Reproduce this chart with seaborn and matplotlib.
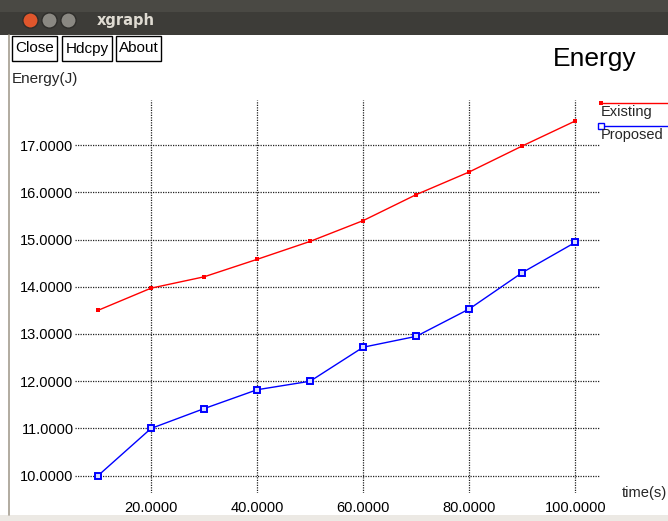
import matplotlib
matplotlib.use("Agg")
import matplotlib.pyplot as plt
import seaborn as sns
import pandas as pd
from matplotlib.lines import Line2D
from matplotlib.patches import Rectangle

# ---- data ----
time_s = [10, 20, 30, 40, 50, 60, 70, 80, 90, 100]
existing = [13.50, 13.97, 14.21, 14.58, 14.96, 15.40, 15.95, 16.43, 16.98, 17.51]
proposed = [10.00, 11.00, 11.42, 11.82, 12.00, 12.72, 12.95, 13.53, 14.30, 14.94]
series_names = ["Existing", "Proposed"]
x_ticks = [20, 40, 60, 80, 100]
y_ticks = [10, 11, 12, 13, 14, 15, 16, 17]

df = pd.DataFrame({
    "time": time_s * 2,
    "energy": existing + proposed,
    "series": [series_names[0]] * len(time_s) + [series_names[1]] * len(time_s),
})

sns.set_style("white")
plt.rcParams["font.family"] = ["Liberation Sans", "DejaVu Sans"]

W, H = 668, 521
fig = plt.figure(figsize=(W / 100, H / 100), dpi=100)
fig.patch.set_facecolor("white")


def fx(x):
    return x / W


def fy(y):
    return 1 - y / H


# ---- window chrome ----
fig.add_artist(Rectangle((0, fy(35)), 1, 35 / H, transform=fig.transFigure,
                         facecolor="#3d3c38", edgecolor="none"))
fig.add_artist(Rectangle((0, fy(12)), 1, 12 / H, transform=fig.transFigure,
                         facecolor="#4a4944", edgecolor="none"))
fig.add_artist(Rectangle((0, 0), 1, 6 / H, transform=fig.transFigure,
                         facecolor="#ece9e4", edgecolor="none"))
fig.add_artist(Line2D([fx(9), fx(9)], [fy(35), fy(515)], transform=fig.transFigure,
                      color="#a49d90", lw=1.2))
for cx, col in [(30, "#e0562c"), (49, "#8a8882"), (68, "#8a8882")]:
    fig.add_artist(Line2D([fx(cx)], [fy(20)], transform=fig.transFigure, marker="o",
                          ms=11, mfc=col, mec="#2e2d2a", mew=1))
fig.text(fx(97), fy(20), "xgraph", color="#dfdbd2", fontsize=10.5,
         fontweight="bold", family="DejaVu Sans", va="center", ha="left")

for x0, x1, lab in [(12, 57, "Close"), (62, 112, "Hdcpy"), (116, 161, "About")]:
    fig.add_artist(Rectangle((fx(x0), fy(61)), (x1 - x0) / W, 25 / H,
                             transform=fig.transFigure, facecolor="white",
                             edgecolor="black", lw=1.0))
    fig.text(fx((x0 + x1) / 2), fy(48.5), lab, fontsize=11, ha="center",
             va="center", color="black")

fig.text(fx(595), fy(59), "Energy", fontsize=19, ha="center", va="center",
         color="black")
fig.text(fx(12), fy(79), "Energy(J)", fontsize=11, ha="left", va="center")
fig.text(fx(622), fy(493), "time(s)", fontsize=10.6, ha="left", va="center")

# ---- plot area ----
ax = fig.add_axes([fx(75), 28 / H, 525 / W, 393 / H])
ax.set_facecolor("white")

sub_e = df[df["series"] == "Existing"]
sub_p = df[df["series"] == "Proposed"]
sns.lineplot(data=sub_e, x="time", y="energy", ax=ax, color="#ff0000",
             linewidth=1.0, marker="s", markersize=3.2, markeredgewidth=0,
             legend=False)
sns.lineplot(data=sub_p, x="time", y="energy", ax=ax, color="#0000ff",
             linewidth=1.0, marker="s", markersize=4.6, markerfacecolor="#d8dcff",
             markeredgecolor="#0000ff", markeredgewidth=1.4, legend=False)

ax.set_xlim(5.67, 104.65)
ax.set_ylim(9.634, 17.953)
ax.set_xticks(x_ticks)
ax.set_yticks(y_ticks)
ax.set_xticklabels([f"{v:.4f}" for v in x_ticks])
ax.set_yticklabels([f"{v:.4f}" for v in y_ticks])
ax.tick_params(axis="both", length=0, labelsize=10.5, colors="black")
ax.tick_params(axis="y", pad=1)
ax.tick_params(axis="x", pad=6)
ax.set_xlabel("")
ax.set_ylabel("")
for s in ax.spines.values():
    s.set_visible(False)
ax.grid(True, color="#222222", linestyle=(0, (1, 1)), linewidth=0.9)
ax.set_axisbelow(True)

# ---- legend (xgraph style) ----
fig.add_artist(Line2D([fx(600), fx(668)], [fy(102.7), fy(102.7)], transform=fig.transFigure,
                      color="#ff0000", lw=1.0))
fig.add_artist(Line2D([fx(601)], [fy(102.7)], transform=fig.transFigure, marker="s",
                      ms=3.2, mfc="#ff0000", mew=0))
fig.text(fx(601), fy(111.5), series_names[0], fontsize=10.5, ha="left", va="center")
fig.add_artist(Line2D([fx(600), fx(668)], [fy(125.7), fy(125.7)], transform=fig.transFigure,
                      color="#0000ff", lw=1.0))
fig.add_artist(Line2D([fx(601)], [fy(125.7)], transform=fig.transFigure, marker="s",
                      ms=4.2, mfc="white", mec="#0000ff", mew=1.0))
fig.text(fx(601), fy(134.5), series_names[1], fontsize=10.5, ha="left", va="center")

fig.savefig("out.png", dpi=100)
